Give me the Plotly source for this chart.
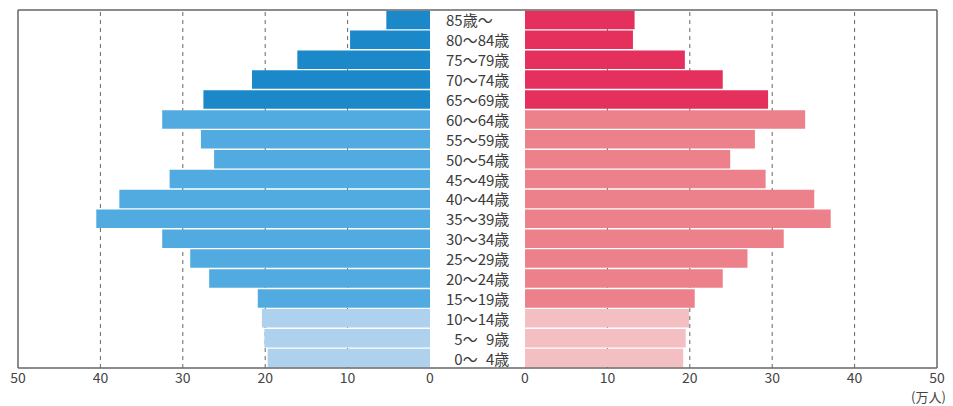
import plotly.graph_objects as go

W, H = 953, 406

age_groups = ["0～ 4歳", "5～ 9歳", "10～14歳", "15～19歳", "20～24歳", "25～29歳",
              "30～34歳", "35～39歳", "40～44歳", "45～49歳", "50～54歳", "55～59歳",
              "60～64歳", "65～69歳", "70～74歳", "75～79歳", "80～84歳", "85歳～"]
center_labels = ["\u20070～\u20074歳", "\u20075～\u20079歳", "10～14歳", "15～19歳", "20～24歳", "25～29歳",
                 "30～34歳", "35～39歳", "40～44歳", "45～49歳", "50～54歳", "55～59歳",
                 "60～64歳", "65～69歳", "70～74歳", "75～79歳", "80～84歳", "85歳～"]
male = [19.7, 20.1, 20.4, 20.9, 26.8, 29.1, 32.5, 40.5, 37.7, 31.6, 26.2, 27.8,
        32.5, 27.5, 21.6, 16.1, 9.7, 5.3]
female = [19.2, 19.5, 19.9, 20.6, 24.0, 27.0, 31.4, 37.1, 35.1, 29.2, 24.9, 27.9,
          34.0, 29.5, 24.0, 19.4, 13.1, 13.3]
group = ["young"] * 3 + ["working"] * 10 + ["old"] * 5
tick_vals = [0, 10, 20, 30, 40, 50]
tick_text = ["0", "10", "20", "30", "40", "50"]
unit_label = "(万人)"

male_colors = {"young": "#aed2ee", "working": "#52abe0", "old": "#1b89c9"}
female_colors = {"young": "#f4bfc2", "working": "#ec808b", "old": "#e5305e"}

FONT = "Noto Sans CJK JP"

def px(x):
    return x / W

def py(y):
    return 1 - y / H

L0, L1 = 18, 430
R0, R1 = 525, 937
TOP, BOT = 10, 368

fig = go.Figure()
fig.add_trace(go.Bar(y=age_groups, x=male, orientation="h",
                     marker=dict(color=[male_colors[g] for g in group], line=dict(width=0)),
                     xaxis="x", yaxis="y", showlegend=False, hoverinfo="x+y"))
fig.add_trace(go.Bar(y=age_groups, x=female, orientation="h",
                     marker=dict(color=[female_colors[g] for g in group], line=dict(width=0)),
                     xaxis="x2", yaxis="y2", showlegend=False, hoverinfo="x+y"))

axstyle = dict(showgrid=False, tickvals=tick_vals, ticktext=tick_text, ticks="",
               zeroline=False, showline=False, automargin=False,
               tickfont=dict(family=FONT, size=14, color="#444444"))
yst = dict(domain=[py(BOT), py(TOP)], range=[-0.5, 17.5], showticklabels=False,
           showgrid=False, zeroline=False, ticks="", automargin=False,
           categoryorder="array", categoryarray=age_groups)

fig.update_layout(
    width=W, height=H, autosize=False,
    margin=dict(l=0, r=0, t=0, b=0, pad=0),
    paper_bgcolor="white", plot_bgcolor="white",
    bargap=0.07,
    font=dict(family=FONT),
    xaxis=dict(domain=[px(L0), px(L1)], range=[50, 0], anchor="y", **axstyle),
    xaxis2=dict(domain=[px(R0), px(R1)], range=[0, 50], anchor="y2", **axstyle),
    yaxis=dict(anchor="x", **yst),
    yaxis2=dict(anchor="x2", **yst),
)

for ax in ["x", "x2"]:
    for v in tick_vals[1:-1]:
        fig.add_shape(type="line", xref=ax, yref="paper", x0=v, x1=v,
                      y0=py(BOT), y1=py(TOP), layer="below",
                      line=dict(color="#666666", width=1, dash="4px,4px"))

frame = dict(color="#666666", width=1.5)
fig.add_shape(type="line", xref="paper", yref="paper", x0=px(L0), x1=px(R1), y0=py(TOP), y1=py(TOP), line=frame)
fig.add_shape(type="line", xref="paper", yref="paper", x0=px(L0), x1=px(R1), y0=py(BOT), y1=py(BOT), line=frame)
fig.add_shape(type="line", xref="paper", yref="paper", x0=px(L0), x1=px(L0), y0=py(BOT), y1=py(TOP), line=frame)
fig.add_shape(type="line", xref="paper", yref="paper", x0=px(R1), x1=px(R1), y0=py(BOT), y1=py(TOP), line=frame)

for cat, lab in zip(age_groups, center_labels):
    fig.add_annotation(x=px(444), xref="paper", y=cat, yref="y", text=lab,
                       showarrow=False, xanchor="left", yanchor="middle",
                       font=dict(family=FONT, size=15, color="#3c3c3c"))

fig.add_annotation(x=px(948), xref="paper", y=py(396), yref="paper", text=unit_label,
                   showarrow=False, xanchor="right", yanchor="middle",
                   font=dict(family=FONT, size=13, color="#444444"))

fig.write_html("out.html", config={"responsive": False, "displayModeBar": False},
               post_script="document.body.style.margin='0';document.body.style.overflow='hidden';")
